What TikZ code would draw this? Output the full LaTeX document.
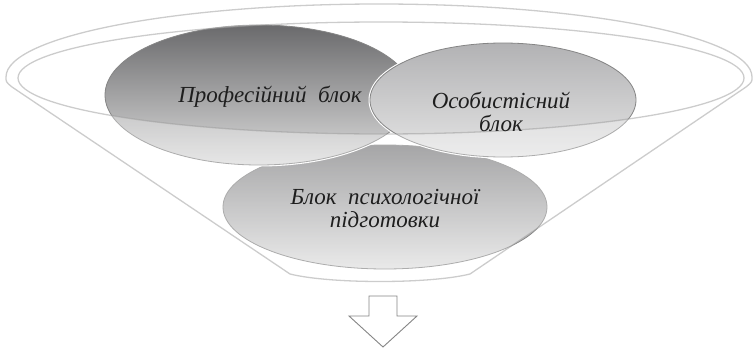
\documentclass[tikz,border=0pt]{standalone}
\usepackage{fontspec}
\setmainfont{Liberation Serif}
\usetikzlibrary{shapes.geometric}
\definecolor{edgegray}{HTML}{858585}
\definecolor{funnelgray}{HTML}{9A9A9A}
\definecolor{txtcol}{HTML}{1E1E1E}
\definecolor{proftop}{HTML}{6A6A6C}
\definecolor{profbot}{HTML}{DCDCDC}
\definecolor{ostop}{HTML}{B2B2B4}
\definecolor{osbot}{HTML}{E4E4E4}
\definecolor{pstop}{HTML}{7C7C7E}
\definecolor{psbot}{HTML}{E0E0E0}
\begin{document}
\begin{tikzpicture}[x=1pt,y=-1pt,
  blob/.style={ellipse, inner sep=0pt, outer sep=0pt, draw=edgegray, line width=0.8pt},
  halo/.style={preaction={draw=white, line width=3pt}},
  lbl/.style={font=\fontsize{23}{23}\selectfont\itshape, text=txtcol, align=center, inner sep=0pt},
  funnelline/.style={draw=funnelgray, draw opacity=0.5, line width=1.3pt},
  arrowbox/.style={draw=edgegray, fill=white, line width=0.9pt, line join=miter}]
\useasboundingbox (0,0) rectangle (753,348);

% ellipses
\node[blob, minimum width=324pt, minimum height=124pt, top color=pstop, bottom color=psbot] (psy) at (385,207) {};
\node[blob, halo, minimum width=308pt, minimum height=140pt, top color=proftop, bottom color=profbot] (prof) at (259,95) {};
\node[blob, halo, minimum width=266pt, minimum height=114pt, top color=ostop, bottom color=osbot] (os) at (503,100) {};

% funnel body wash (outside the inner rim)
\fill[white, fill opacity=0.32, even odd rule]
  (6,77) arc[start angle=180, end angle=360, x radius=373, y radius=73]
  .. controls (752,82) .. (746,87) -- (470,274)
  .. controls (430,284) and (330,284) .. (290,274) -- (12,87)
  .. controls (6,82) .. (6,77) -- cycle
  (381,78) ellipse[x radius=363, y radius=56];

% funnel outline
\coordinate (rimL) at (6,77);
\coordinate (rimR) at (752,77);
\coordinate (botL) at (290,274);
\coordinate (botR) at (470,274);
\draw[funnelline] (rimL) arc[start angle=180, end angle=360, x radius=373, y radius=73]
  .. controls (752,82) .. (746,87) -- (botR)
  .. controls (430,284) and (330,284) .. (botL) -- (12,87)
  .. controls (6,82) .. (rimL);
\draw[funnelline] (381,78) ellipse[x radius=363, y radius=56];

% labels
\node[lbl, anchor=base] (tprof) at (270,102) {Професійний~ блок};
\node[lbl] (tos) at (501,112) {Особистісний\\блок};
\node[lbl] (tpsy) at (385,209) {Блок~ психологічної\\підготовки};

% arrow
\draw[arrowbox] (369,296) -- (397,296) -- (397,316) -- (417,316) -- (383,347)
  -- (349,316) -- (369,316) -- cycle;
\end{tikzpicture}
\end{document}
